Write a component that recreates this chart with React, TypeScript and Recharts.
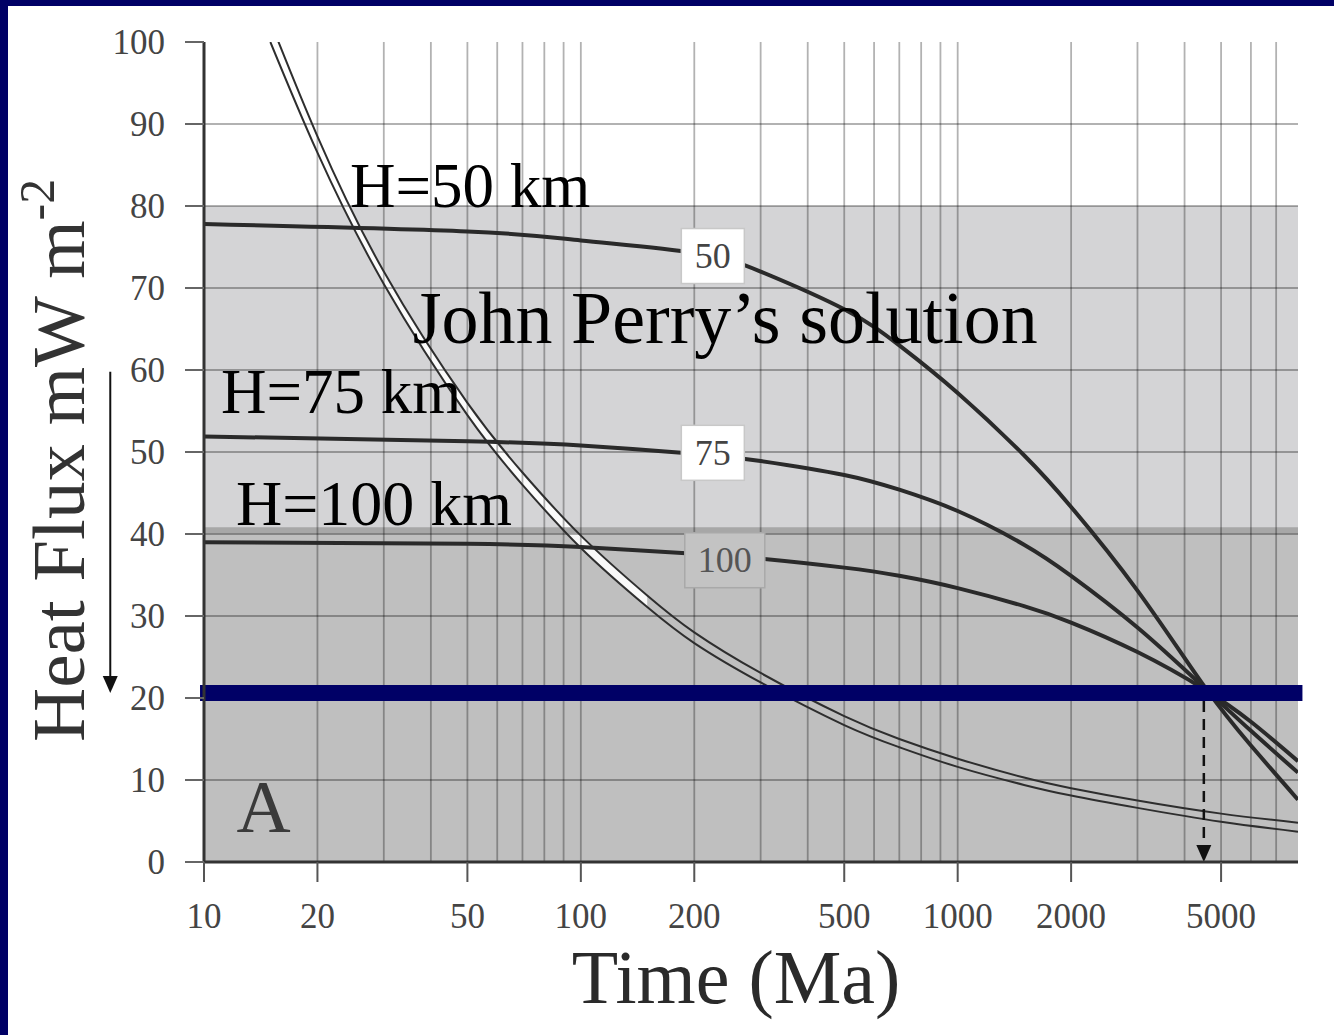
import { ComposedChart, Line, Area, XAxis, YAxis, ReferenceArea, ReferenceLine, ReferenceDot } from 'recharts';

const serif = "'Liberation Serif', 'Times New Roman', Times, serif";

// axes (time in Ma on a log scale, heat flux in mW m^-2)
const majorTimes = [10, 20, 50, 100, 200, 500, 1000, 2000, 5000];
const gridTimes = [20, 30, 40, 50, 60, 70, 80, 90, 100, 200, 300, 400, 500, 600, 700, 800, 900, 1000, 2000, 3000, 4000, 5000, 6000, 7000];
const fluxTicks = [0, 10, 20, 30, 40, 50, 60, 70, 80, 90, 100];
const gridFlux = [10, 20, 30, 40, 50, 60, 70, 80, 90];

// layer thickness curves H = 50, 75, 100 km
const hTimes = [10, 50, 100, 200, 300, 500, 700, 1000, 1500, 2000, 3000, 4500, 6000, 8000];
const h50 = [77.8, 76.9, 75.8, 74.3, 72.0, 67.4, 63.0, 57.2, 49.6, 43.3, 33.1, 21.5, 14.2, 7.6];
const h75 = [51.9, 51.3, 50.8, 49.8, 48.9, 47.2, 45.4, 42.8, 38.7, 34.9, 28.6, 21.3, 16.0, 10.9];
const h100 = [39.0, 38.8, 38.4, 37.6, 37.0, 35.9, 34.9, 33.4, 31.2, 29.2, 25.6, 21.1, 17.1, 12.3];

// double line (half-space cooling)
const pairTimes = [15, 20, 30, 50, 70, 100, 150, 200, 300, 500, 700, 1000, 1500, 2000, 3000, 5000, 8000];
const pairUpper = [102.5, 88.5, 72, 56, 47.5, 39.8, 32.5, 28.0, 23.05, 17.8, 15.0, 12.6, 10.3, 9.0, 7.5, 5.9, 4.8];
const pairLower = [100, 86.5, 70.5, 54.5, 46, 38.3, 31.1, 26.7, 21.9, 16.7, 14.0, 11.6, 9.4, 8.1, 6.6, 4.9, 3.7];

// boxed labels sitting on the curves
const curveLabels = ['50', '75', '100'];
const labelTimes = [224, 224, 241];
const labelFlux = [73.9, 49.9, 36.8];

// shaded bands and the present-day flux line
const bandTop = 80;
const bandSplit = 40.6;
const presentFlux = 20.6;
const crossTime = 4500;

const toRows = (times: number[], vals: number[]) => times.map((t, i) => ({ t, q: vals[i] }));
const h50Data = toRows(hTimes, h50);
const h75Data = toRows(hTimes, h75);
const h100Data = toRows(hTimes, h100);
const pairData = pairTimes.map((t, i) => ({ t, hi: pairUpper[i], lo: pairLower[i] }));
const upperData = toRows(pairTimes, pairUpper);
const lowerData = toRows(pairTimes, pairLower);

const notes = [
  { text: 'H=50 km', t: 24.4, q: 79.9, size: 63, color: '#000' },
  { text: 'John Perry’s solution', t: 35.8, q: 63.3, size: 74, color: '#000' },
  { text: 'H=75 km', t: 11.1, q: 54.8, size: 63, color: '#000' },
  { text: 'H=100 km', t: 12.16, q: 41.1, size: 64, color: '#000' },
  { text: 'A', t: 12.2, q: 3.66, size: 75, color: '#3a3a3a' },
];

const gridStroke = 'rgba(0,0,0,0.3)';

function LabelBox({ cx, cy, text }: { cx: number; cy: number; text: string }) {
  const dark = text.length > 2;
  const w = dark ? 80 : 63;
  const h = 55;
  return (
    <g>
      <rect x={cx - w / 2} y={cy - h / 2} width={w} height={h} fill={dark ? '#c3c3c3' : '#fff'} stroke={dark ? '#a9a9a9' : '#c8c8c8'} strokeWidth={1.5} />
      <text x={cx} y={cy + 12} textAnchor="middle" fontSize={36} fontFamily={serif} fill={dark ? '#555' : '#444'}>
        {text}
      </text>
    </g>
  );
}

function DownArrow(p: any) {
  const { x1, y1, y2, dashed } = p;
  const top = Math.min(y1, y2);
  const bottom = Math.max(y1, y2);
  return (
    <g>
      <line x1={x1} y1={top + (dashed ? 8 : 0)} x2={x1} y2={bottom - 16} stroke="#111" strokeWidth={dashed ? 2.5 : 2} strokeDasharray={dashed ? '11 7' : undefined} />
      <polygon points={`${x1 - 7.5},${bottom - 17} ${x1 + 7.5},${bottom - 17} ${x1},${bottom}`} fill="#111" />
    </g>
  );
}

export default function App() {
  return (
    <div style={{ position: 'absolute', left: 0, top: 0, width: 1334, height: 1035, background: '#000066', overflow: 'hidden' }}>
      <div style={{ position: 'absolute', left: 8, top: 6, right: 0, bottom: 0, background: '#fff' }} />
      <div style={{ position: 'absolute', left: 0, top: 0 }}>
        <ComposedChart width={1334} height={1035} margin={{ top: 42, right: 36, bottom: 0, left: 0 }}>
          <XAxis
            dataKey="t"
            type="number"
            scale="log"
            domain={[10, 8000]}
            allowDataOverflow
            ticks={majorTimes}
            interval={0}
            height={173}
            tickSize={20}
            tickMargin={21}
            tick={{ fontSize: 35, fill: '#444', fontFamily: serif }}
            axisLine={{ stroke: '#333', strokeWidth: 3 }}
            tickLine={{ stroke: '#555', strokeWidth: 2 }}
            label={(props: any) => {
              const vb = props.viewBox;
              return (
                <text x={vb.x + vb.width / 2 - 15} y={vb.y + 141} textAnchor="middle" fontSize={76} fontFamily={serif} fill="#2a2a2a">
                  Time (Ma)
                </text>
              );
            }}
          />
          <XAxis
            xAxisId="top"
            orientation="top"
            type="number"
            scale="log"
            domain={[10, 8000]}
            allowDataOverflow
            ticks={majorTimes}
            interval={0}
            height={0}
            tickSize={19}
            tick={false}
            axisLine={{ stroke: '#444', strokeWidth: 2.5 }}
            tickLine={{ stroke: '#777', strokeWidth: 2 }}
          />
          <YAxis
            type="number"
            domain={[0, 100]}
            allowDataOverflow
            ticks={fluxTicks}
            interval={0}
            width={204}
            tickSize={19}
            tickMargin={20}
            tick={{ fontSize: 35, fill: '#444', fontFamily: serif }}
            axisLine={{ stroke: '#333', strokeWidth: 3 }}
            tickLine={{ stroke: '#666', strokeWidth: 2 }}
            label={(props: any) => {
              const vb = props.viewBox;
              const x = vb.x + 84;
              const y = vb.y + vb.height - 120;
              return (
                <text x={x} y={y} transform={`rotate(-90 ${x} ${y})`} fontSize={75} fontFamily={serif} fill="#333">
                  Heat Flux mW m<tspan dy={-30} fontSize={50}>-2</tspan>
                </text>
              );
            }}
          />
          <YAxis
            yAxisId="right"
            orientation="right"
            type="number"
            domain={[0, 100]}
            ticks={fluxTicks}
            interval={0}
            width={0}
            tickSize={18}
            tick={false}
            axisLine={{ stroke: '#333', strokeWidth: 3 }}
            tickLine={{ stroke: '#777', strokeWidth: 2 }}
          />

          <ReferenceArea y1={bandSplit} y2={bandTop} fill="#d4d4d6" fillOpacity={1} stroke="none" />
          <ReferenceArea y1={0} y2={bandSplit} fill="#bfbfbf" fillOpacity={1} stroke="none" />
          <ReferenceLine y={bandSplit - 0.15} stroke="#a7a7a7" strokeWidth={6} />

          {gridTimes.map((t) => (
            <ReferenceLine key={'gx' + t} x={t} stroke={gridStroke} strokeWidth={1.8} />
          ))}
          {gridFlux.map((q) => (
            <ReferenceLine key={'gy' + q} y={q} stroke={gridStroke} strokeWidth={1.8} />
          ))}

          <Area
            data={pairData.slice(0, 7)}
            dataKey={(d: any) => [d.lo, d.hi]}
            type="natural"
            fill="#fff"
            fillOpacity={0.9}
            stroke="none"
            isAnimationActive={false}
            activeDot={false}
          />
          <Line data={upperData} dataKey="q" type="natural" stroke="#2e2e2e" strokeWidth={2} dot={false} activeDot={false} isAnimationActive={false} />
          <Line data={lowerData} dataKey="q" type="natural" stroke="#2e2e2e" strokeWidth={2} dot={false} activeDot={false} isAnimationActive={false} />
          <Line data={h50Data} dataKey="q" type="natural" stroke="#2a2a2a" strokeWidth={4} dot={false} activeDot={false} isAnimationActive={false} />
          <Line data={h75Data} dataKey="q" type="natural" stroke="#2a2a2a" strokeWidth={4} dot={false} activeDot={false} isAnimationActive={false} />
          <Line data={h100Data} dataKey="q" type="natural" stroke="#2a2a2a" strokeWidth={4} dot={false} activeDot={false} isAnimationActive={false} />

          <ReferenceLine
            segment={[{ x: 9.76, y: presentFlux }, { x: 8220, y: presentFlux }]}
            ifOverflow="visible"
            stroke="#000066"
            strokeWidth={16}
          />

          <ReferenceLine
            segment={[{ x: crossTime, y: presentFlux }, { x: crossTime, y: 0 }]}
            ifOverflow="visible"
            shape={(p: any) => <DownArrow {...p} dashed />}
          />
          <ReferenceLine
            segment={[{ x: 5.64, y: 59.8 }, { x: 5.64, y: presentFlux }]}
            ifOverflow="visible"
            shape={(p: any) => <DownArrow {...p} />}
          />

          {curveLabels.map((s, i) => (
            <ReferenceDot
              key={'lb' + s}
              x={labelTimes[i]}
              y={labelFlux[i]}
              r={0}
              ifOverflow="visible"
              shape={(p: any) => <LabelBox cx={p.cx} cy={p.cy} text={s} />}
            />
          ))}

          {notes.map((n) => (
            <ReferenceDot
              key={n.text}
              x={n.t}
              y={n.q}
              r={0}
              ifOverflow="visible"
              shape={(p: any) => (
                <text x={p.cx} y={p.cy} fontSize={n.size} fontFamily={serif} fill={n.color}>
                  {n.text}
                </text>
              )}
            />
          ))}
        </ComposedChart>
      </div>
    </div>
  );
}
